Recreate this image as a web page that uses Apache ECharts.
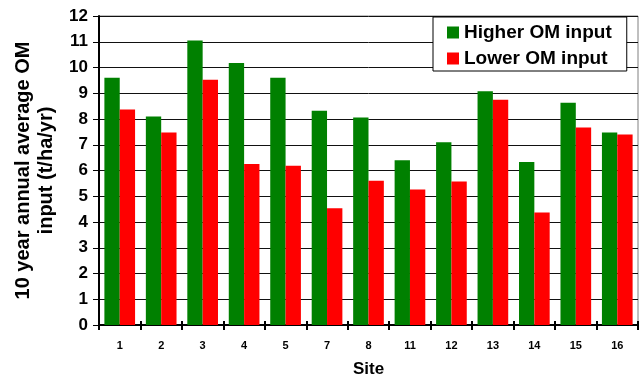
<!DOCTYPE html>
<html>
<head>
<meta charset="utf-8">
<script src="https://cdn.jsdelivr.net/npm/echarts@6/dist/echarts.min.js"></script>
<style>
  html, body { margin: 0; padding: 0; background: #fff; }
  #chart { width: 640px; height: 383px; }
</style>
</head>
<body>
<div id="chart"></div>
<script>
// Sites sampled
var sites = ['1', '2', '3', '4', '5', '7', '8', '11', '12', '13', '14', '15', '16'];

// 10 year annual average OM input (t/ha/yr)
var higherInput = [9.6, 8.1, 11.05, 10.17, 9.6, 8.32, 8.06, 6.4, 7.1, 9.08, 6.33, 8.63, 7.48];
var lowerInput  = [8.37, 7.48, 9.52, 6.25, 6.18, 4.53, 5.6, 5.26, 5.57, 8.75, 4.37, 7.67, 7.4];

var seriesNames = ['Higher OM input', 'Lower OM input'];
var yTicks = { min: 0, max: 12, interval: 1 };

var FONT = '"Liberation Sans", Arial, sans-serif';

var chart = echarts.init(document.getElementById('chart'), null, { renderer: 'canvas' });

chart.setOption({
  animation: false,
  backgroundColor: '#ffffff',
  textStyle: { fontFamily: FONT, color: '#000' },
  grid: {
    left: 99, right: 2, top: 16, bottom: 54,
    show: true, borderColor: '#808080', borderWidth: 1, backgroundColor: 'transparent'
  },
  legend: {
    orient: 'vertical',
    left: 433, top: 17,
    padding: [6, 15, 3, 14],
    itemWidth: 12, itemHeight: 12, itemGap: 7,
    backgroundColor: '#ffffff',
    borderColor: '#000', borderWidth: 1,
    icon: 'rect',
    textStyle: { fontFamily: FONT, fontWeight: 'bold', fontSize: 19, lineHeight: 19, color: '#000' },
    data: seriesNames
  },
  xAxis: [
    {
      type: 'category',
      data: sites,
      name: 'Site',
      nameLocation: 'middle',
      nameGap: 36,
      nameTextStyle: { fontFamily: FONT, fontWeight: 'bold', fontSize: 17, color: '#000' },
      axisLine: { lineStyle: { color: '#000', width: 2 } },
      axisTick: { show: true, alignWithLabel: false, length: 5, lineStyle: { color: '#000', width: 2 } },
      axisLabel: { interval: 0, margin: 15, fontFamily: FONT, fontWeight: 'bold', fontSize: 11, color: '#000' }
    },
    {
      // inward half of the cross ticks on the category axis
      type: 'category',
      data: sites,
      position: 'bottom',
      axisLine: { show: false },
      axisTick: { show: true, inside: true, length: 4, lineStyle: { color: '#000', width: 2 } },
      axisLabel: { show: false },
      splitLine: { show: false }
    }
  ],
  yAxis: {
    type: 'value',
    min: yTicks.min, max: yTicks.max, interval: yTicks.interval,
    name: '10 year annual average OM\ninput (t/ha/yr)',
    nameLocation: 'middle',
    nameGap: 40,
    nameRotate: 90,
    nameTextStyle: { fontFamily: FONT, fontWeight: 'bold', fontSize: 20, lineHeight: 23, color: '#000', align: 'center' },
    axisLine: { show: true, lineStyle: { color: '#000', width: 2 } },
    axisTick: { show: true, length: 6, lineStyle: { color: '#000', width: 1 } },
    axisLabel: { margin: 11, fontFamily: FONT, fontWeight: 'bold', fontSize: 17, color: '#000' },
    splitLine: { show: true, lineStyle: { color: '#111', width: 1 } }
  },
  series: [
    {
      name: seriesNames[0],
      type: 'bar',
      data: higherInput,
      itemStyle: { color: '#008000' },
      barGap: '0%',
      barCategoryGap: '26%'
    },
    {
      name: seriesNames[1],
      type: 'bar',
      data: lowerInput,
      itemStyle: { color: '#ff0000' },
      barGap: '0%',
      barCategoryGap: '26%'
    }
  ]
});
</script>
</body>
</html>
